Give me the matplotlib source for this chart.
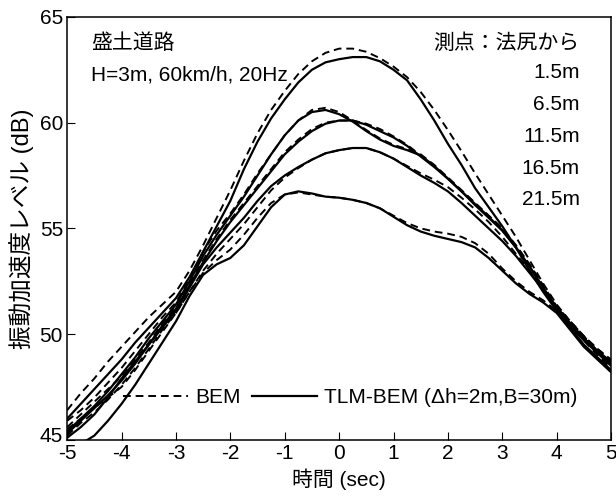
import matplotlib
matplotlib.use("Agg")
import matplotlib.pyplot as plt
from matplotlib.lines import Line2D
from matplotlib.transforms import ScaledTranslation

plt.rcParams['font.family'] = ['Liberation Sans', 'Noto Sans CJK JP']
plt.rcParams['axes.unicode_minus'] = False

# 時間軸 (sec)
t = [-5 + 0.25 * i for i in range(41)]

# 測点ごとの振動加速度レベル (dB)  -- BEM / TLM-BEM
bem_15 = [46.4, 47.2, 47.9, 48.7, 49.4, 50.1, 50.8, 51.4, 52.0, 53.0, 54.2, 55.5, 56.8, 58.2, 59.5,
          60.6, 61.5, 62.3, 62.9, 63.3, 63.5, 63.5, 63.35, 63.05, 62.65, 62.15, 61.45, 60.6, 59.65,
          58.65, 57.6, 56.6, 55.6, 54.6, 53.5, 52.4, 51.4, 50.6, 49.9, 49.2, 48.6]
tlm_15 = [46.0, 46.7, 47.4, 48.1, 48.8, 49.6, 50.3, 51.0, 51.7, 52.7, 53.9, 55.1, 56.3, 57.8, 59.1,
          60.2, 61.1, 61.9, 62.5, 62.85, 63.0, 63.1, 63.1, 62.9, 62.5, 62.0, 61.1, 60.1, 59.0,
          58.0, 56.9, 56.0, 55.1, 54.1, 53.0, 52.0, 51.1, 50.3, 49.5, 48.9, 48.3]

bem_65 = [45.9, 46.4, 47.0, 47.7, 48.4, 49.2, 50.0, 50.8, 51.5, 52.6, 53.9, 54.9, 55.7, 56.6, 57.6,
          58.5, 59.4, 60.1, 60.6, 60.7, 60.5, 60.1, 59.65, 59.25, 58.95, 58.75, 58.5, 58.0, 57.4,
          56.8, 56.2, 55.6, 55.0, 54.2, 53.3, 52.3, 51.3, 50.6, 49.9, 49.3, 48.7]
tlm_65 = [45.4, 46.0, 46.6, 47.3, 48.1, 48.9, 49.8, 50.6, 51.4, 52.5, 53.7, 54.7, 55.6, 56.5, 57.5,
          58.5, 59.4, 60.1, 60.5, 60.6, 60.4, 60.05, 59.6, 59.2, 58.9, 58.7, 58.45, 57.95, 57.35,
          56.75, 56.15, 55.55, 54.9, 54.1, 53.2, 52.2, 51.2, 50.5, 49.8, 49.2, 48.6]

bem_115 = [45.6, 46.2, 46.8, 47.4, 48.0, 48.8, 49.6, 50.5, 51.3, 52.4, 53.5, 54.5, 55.4, 56.2, 57.0,
           57.8, 58.6, 59.2, 59.7, 60.0, 60.1, 60.1, 59.95, 59.7, 59.35, 58.95, 58.45, 57.95, 57.4,
           56.8, 56.2, 55.6, 55.0, 54.2, 53.3, 52.3, 51.3, 50.6, 49.9, 49.3, 48.8]
tlm_115 = [45.3, 45.9, 46.5, 47.1, 47.8, 48.6, 49.5, 50.4, 51.2, 52.3, 53.4, 54.4, 55.3, 56.1, 56.9,
           57.7, 58.5, 59.1, 59.6, 59.95, 60.1, 60.1, 59.9, 59.6, 59.3, 58.9, 58.4, 57.9, 57.35,
           56.75, 56.1, 55.5, 54.9, 54.1, 53.2, 52.2, 51.2, 50.5, 49.8, 49.2, 48.7]

bem_165 = [45.2, 45.8, 46.3, 46.9, 47.6, 48.4, 49.3, 50.2, 51.0, 52.0, 53.0, 53.8, 54.5, 55.2, 56.0,
           56.8, 57.4, 57.85, 58.25, 58.55, 58.7, 58.8, 58.8, 58.6, 58.3, 57.95, 57.6, 57.3, 56.95,
           56.45, 55.9, 55.3, 54.6, 53.8, 53.0, 52.1, 51.3, 50.5, 49.8, 49.2, 48.6]
tlm_165 = [45.1, 45.6, 46.2, 47.0, 47.9, 48.7, 49.5, 50.3, 51.1, 52.2, 53.3, 54.1, 54.8, 55.5, 56.3,
           57.0, 57.5, 57.9, 58.25, 58.55, 58.7, 58.8, 58.8, 58.6, 58.3, 57.9, 57.5, 57.15, 56.75,
           56.2, 55.6, 55.0, 54.4, 53.7, 52.9, 52.1, 51.2, 50.4, 49.7, 49.1, 48.5]

bem_215 = [45.5, 46.0, 46.5, 47.0, 47.5, 48.3, 49.2, 50.1, 51.0, 52.0, 52.9, 53.5, 54.0, 54.7, 55.5,
           56.2, 56.6, 56.7, 56.6, 56.5, 56.45, 56.35, 56.2, 55.95, 55.6, 55.25, 55.0, 54.85, 54.75,
           54.6, 54.3, 53.8, 53.1, 52.5, 52.0, 51.6, 51.1, 50.4, 49.7, 49.0, 48.4]
tlm_215 = [44.5, 44.8, 45.2, 45.9, 46.7, 47.6, 48.6, 49.6, 50.6, 51.8, 52.8, 53.3, 53.6, 54.2, 55.1,
           56.0, 56.6, 56.75, 56.65, 56.5, 56.45, 56.35, 56.2, 55.95, 55.55, 55.15, 54.85, 54.65, 54.5,
           54.35, 54.1, 53.6, 53.0, 52.4, 51.9, 51.5, 51.0, 50.2, 49.4, 48.8, 48.2]

bem_all = [bem_15, bem_65, bem_115, bem_165, bem_215]
tlm_all = [tlm_15, tlm_65, tlm_115, tlm_165, tlm_215]
points = ["1.5m", "6.5m", "11.5m", "16.5m", "21.5m"]

fig = plt.figure(figsize=(6.16, 4.97), dpi=100)
ax = fig.add_axes([0.109, 0.115, 0.883, 0.851])

for b, m in zip(bem_all, tlm_all):
    ax.plot(t, b, color="black", lw=1.4, ls=(0, (4, 2.5)))
    ax.plot(t, m, color="black", lw=1.6)

ax.set_xlim(-5, 5)
ax.set_ylim(45, 65)
ax.set_xticks(range(-5, 6))
ax.set_yticks([45, 50, 55, 60, 65])
ax.tick_params(direction="in", length=6, labelsize=15, pad=3)
for s in ax.spines.values():
    s.set_linewidth(1.1)

# 一番下の "45" を少し上へずらす（元図と同じく -5 と少し重なる）
lab45 = ax.get_yticklabels()[0]
lab45.set_transform(lab45.get_transform() + ScaledTranslation(0, 5 / 100, fig.dpi_scale_trans))

ax.set_xlabel("時間 (sec)", fontsize=15, labelpad=4)
ax.set_ylabel("振動加速度レベル (dB)", fontsize=17, labelpad=4)

ax.text(-4.56, 63.77, "盛土道路", fontsize=15, va="center", ha="left")
ax.text(-4.56, 62.26, "H=3m, 60km/h, 20Hz", fontsize=15, va="center", ha="left")
ax.text(4.42, 63.77, "測点：法尻から", fontsize=15, va="center", ha="right")
for i, p in enumerate(points):
    ax.text(4.42, 62.35 - i * 1.5, p, fontsize=15, va="center", ha="right")

handles = [Line2D([], [], color="black", lw=1.4, ls=(0, (4, 2.5))),
           Line2D([], [], color="black", lw=1.6)]
ax.legend(handles, ["BEM", "TLM-BEM (Δh=2m,B=30m)"], ncol=2, frameon=False,
          fontsize=15, loc="center left", bbox_to_anchor=(0.103, 0.099),
          borderpad=0, borderaxespad=0,
          handlelength=3.1, handletextpad=0.35, columnspacing=0.55)

fig.savefig("out.png", dpi=100)
